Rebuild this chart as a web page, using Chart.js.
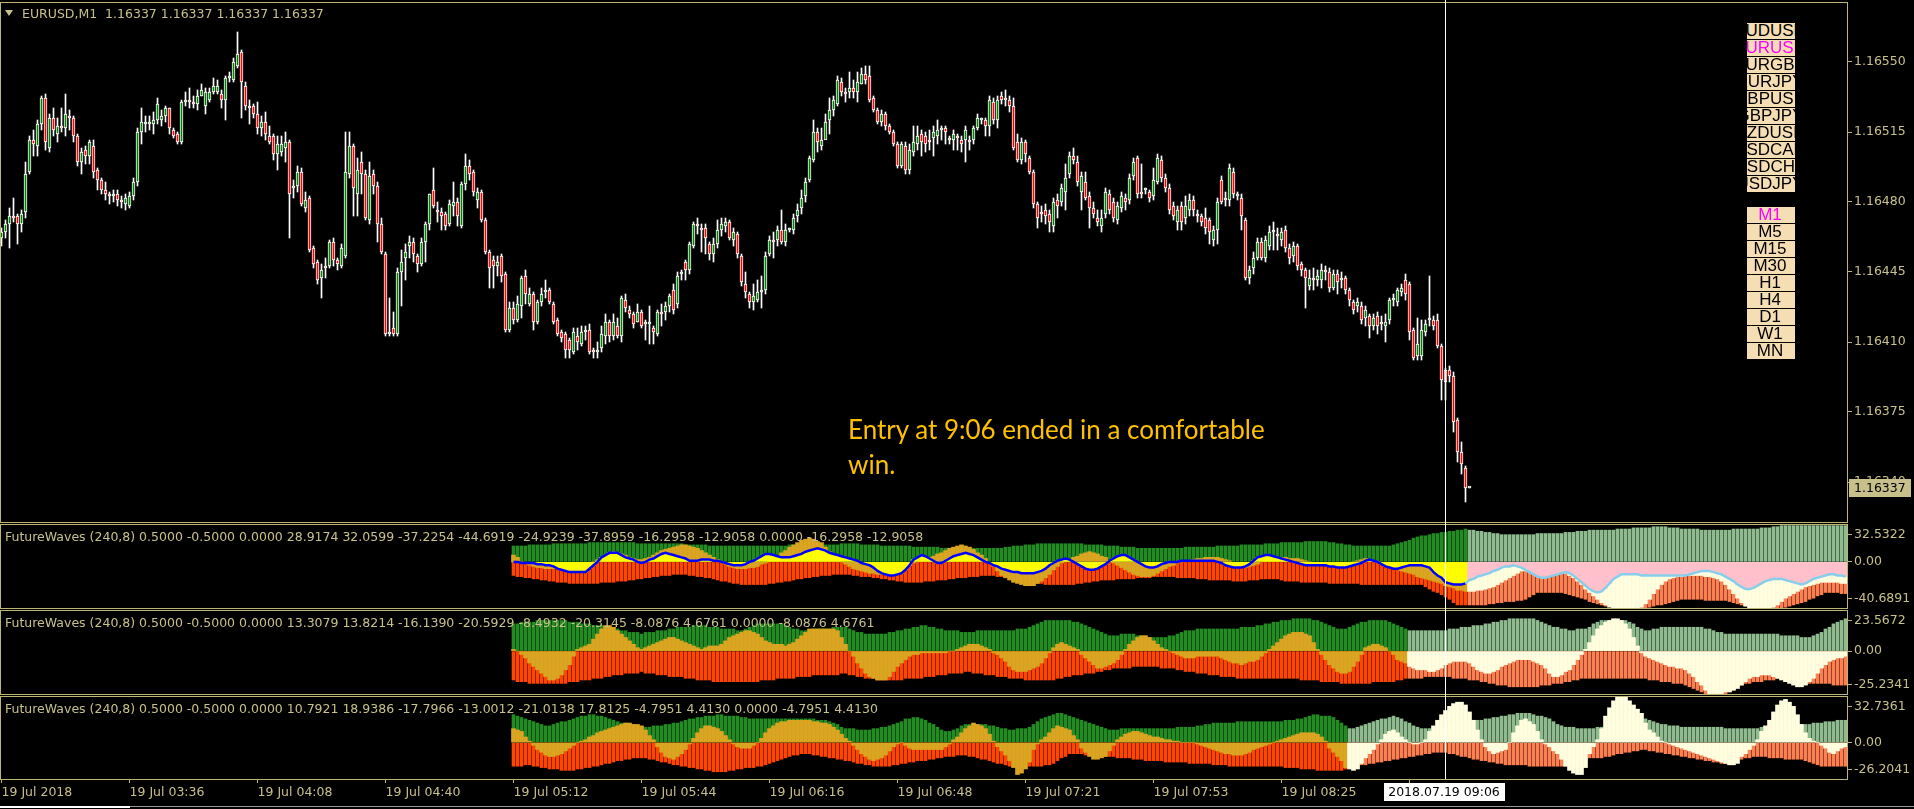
<!DOCTYPE html>
<html><head><meta charset="utf-8">
<script src="https://cdn.jsdelivr.net/npm/chart.js@4.4.1/dist/chart.umd.min.js"></script>
<style>
html,body{margin:0;padding:0;background:#000;width:1914px;height:809px;overflow:hidden;}
#wrap{position:relative;width:1914px;height:809px;background:#000;}
canvas{position:absolute;left:0;}
.t{position:absolute;font-family:"DejaVu Sans";font-size:12.5px;line-height:15px;color:#C8C08A;white-space:pre;z-index:5;}
.btn{position:absolute;left:1747px;width:48px;height:16px;background:#F5DEB3;overflow:hidden;display:flex;justify-content:center;align-items:center;font-family:"Liberation Sans";font-size:17px;line-height:16px;color:#000;white-space:nowrap;z-index:5;}
.btn span{flex:none;position:relative;left:-1px;}
#note{position:absolute;left:848px;top:412px;font-family:Lato;font-size:26px;line-height:35px;color:#FFC000;white-space:pre;z-index:5;}
#tri{position:absolute;left:5px;top:10px;width:0;height:0;border-left:4.5px solid transparent;border-right:4.5px solid transparent;border-top:6px solid #C8C08A;z-index:5;}
</style></head>
<body><div id="wrap">
<canvas id="cMain" width="1914" height="523" style="top:0;width:1914px;height:523px"></canvas>
<canvas id="cP1" width="1914" height="86" style="top:523px;width:1914px;height:86px"></canvas>
<canvas id="cP2" width="1914" height="86" style="top:609px;width:1914px;height:86px"></canvas>
<canvas id="cP3" width="1914" height="114" style="top:695px;width:1914px;height:114px"></canvas>
<div id="tri"></div>
<div class="t" id="mainTitle" style="left:22px;top:6px"></div>
<div class="t" id="pt0" style="left:5px;top:529px"></div>
<div class="t" id="pt1" style="left:5px;top:615px"></div>
<div class="t" id="pt2" style="left:5px;top:701px"></div>
<div id="note">Entry at 9:06 ended in a comfortable
win.</div>
<div style="position:absolute;left:0;top:806px;width:130px;height:2px;background:#fff"></div>
<div style="position:absolute;left:130px;top:806px;width:1784px;height:1px;background:#9a9a9a"></div>
</div>
<script>
// ---------- DATA ----------
const PRICE_BASE = 1.16, POINT = 0.00001;   // candle values are points above 1.16000
const candleOpen = [
462,465,469,473,473,469,475,495,511,508,519,532,507,522,514,518,517,523,522,513,
500,506,503,508,496,491,486,484,483,484,481,479,478,483,490,515,519,519,519,521,
521,523,527,516,514,510,530,531,530,529,533,528,531,535,535,534,531,542,541,548,
555,538,528,528,524,517,520,513,513,504,505,507,510,487,488,495,477,482,457,450,
442,447,448,460,451,448,453,494,508,484,500,494,471,494,488,469,454,414,417,414,
445,452,458,460,453,449,460,469,486,476,475,474,469,478,480,468,489,498,495,481,
485,471,455,451,448,453,444,416,427,421,428,443,429,434,420,430,435,436,429,421,
415,414,411,405,413,409,415,416,406,405,407,413,420,413,418,413,431,426,424,420,
425,419,419,417,414,425,425,428,436,429,444,450,446,458,469,467,467,459,454,459,
466,468,470,461,464,453,439,434,430,431,435,436,454,461,461,466,460,466,466,473,
477,483,491,501,515,508,511,521,526,529,540,535,535,537,535,539,544,543,532,526,
520,524,518,515,509,498,508,496,505,509,514,513,511,512,513,516,517,511,511,513,
511,511,511,511,517,521,521,518,530,521,533,532,531,528,510,501,510,502,495,479,
475,476,474,468,481,480,485,494,503,500,485,490,483,477,472,468,474,484,480,471,
477,482,481,493,502,485,486,485,483,490,501,492,487,478,470,478,472,476,481,474,
473,472,471,461,466,491,481,481,495,483,482,471,442,447,452,460,452,458,465,464,
461,466,457,453,458,449,446,438,442,441,441,446,445,437,444,441,442,436,430,428,
428,422,423,418,423,420,418,421,431,430,435,441,439,416,403,403,415,421,421,421,
408,396,396,393,371,355,347,337];
const candleHigh = [
467,471,477,482,474,476,500,513,516,521,533,534,524,527,522,527,534,526,523,514,
507,508,511,511,497,492,490,485,486,486,483,484,485,492,517,527,523,523,525,532,
526,528,527,517,515,531,535,537,533,536,539,537,537,542,541,536,543,545,552,565,
556,540,531,529,530,523,525,518,514,513,513,515,511,491,498,497,485,483,458,451,
449,452,461,462,452,459,515,515,509,502,505,496,500,496,490,472,455,432,425,447,
456,459,463,462,454,462,470,484,497,480,477,475,481,490,482,490,504,501,496,487,
486,472,456,453,453,454,445,430,430,433,443,446,437,435,431,437,441,437,430,422,
416,415,412,417,417,418,418,419,407,410,418,424,421,424,422,433,434,428,425,429,
426,421,428,418,426,429,430,434,439,445,446,451,460,470,472,469,469,460,462,471,
472,472,471,467,465,454,445,435,439,441,443,455,463,465,468,476,469,467,474,479,
486,492,503,521,517,517,524,532,533,543,542,537,545,541,545,547,548,548,533,527,
526,525,519,516,510,510,510,509,518,518,516,515,516,518,521,518,518,513,516,514,
513,518,513,518,524,522,522,533,532,533,535,536,533,532,514,512,511,503,496,480,
478,479,476,482,484,489,499,505,507,503,495,495,485,480,476,476,487,486,482,480,
485,484,494,502,503,499,487,486,497,504,503,494,489,480,478,480,483,484,483,476,
474,477,472,468,482,493,485,499,497,485,484,472,448,455,462,462,463,468,470,467,
467,468,459,460,459,450,447,446,447,446,449,448,447,446,446,445,443,437,431,432,
430,428,424,424,425,423,424,432,434,437,439,444,440,417,422,421,421,443,423,424,
409,397,398,395,372,360,348,337];
const candleLow = [
458,462,457,470,459,465,472,494,503,503,516,506,505,513,510,515,513,516,510,498,
494,499,499,492,486,484,481,479,480,478,477,476,477,481,488,509,515,516,514,519,
518,520,514,512,509,509,528,527,527,526,533,524,530,534,534,527,521,540,540,547,
522,526,519,522,514,513,511,509,501,496,503,500,462,482,485,478,475,455,447,439,
432,442,447,448,446,447,452,492,473,473,484,471,469,484,460,454,413,413,413,413,
428,441,452,450,445,448,450,466,477,470,466,466,468,473,468,467,486,491,483,477,
470,454,437,437,443,440,415,415,419,420,422,429,428,416,419,428,432,429,419,413,
410,402,402,404,406,408,411,404,402,402,405,409,410,411,412,410,425,422,417,420,
417,411,409,409,413,418,421,425,424,427,441,441,444,457,464,455,454,451,450,457,
463,465,461,458,452,438,432,427,426,430,427,434,453,452,458,459,458,465,464,470,
474,480,490,500,505,506,514,514,523,528,533,530,532,532,530,539,539,530,525,519,
518,516,514,508,497,497,494,494,503,506,503,505,506,503,509,511,509,509,506,506,
505,500,506,509,516,519,513,513,519,517,529,528,525,506,500,499,500,494,477,467,
470,469,465,465,472,478,476,492,499,488,476,481,467,472,468,465,472,474,470,469,
475,476,479,491,482,482,484,480,481,489,490,485,474,471,466,466,469,473,473,470,
468,464,459,458,459,479,478,478,482,481,466,441,439,444,451,451,450,456,456,456,
458,455,449,450,446,443,427,436,436,438,437,441,435,436,434,437,434,428,424,425,
419,418,412,416,414,416,410,419,428,428,433,431,411,401,401,401,413,418,416,407,
381,381,390,365,350,344,330,337];
const candleClose = [
465,469,473,472,469,474,494,511,509,519,532,510,522,516,518,517,524,522,513,500,
505,503,510,495,491,486,484,483,484,481,480,482,483,490,515,520,519,520,521,529,
523,527,517,513,510,530,531,530,529,533,536,535,535,538,538,531,542,543,550,554,
540,528,527,524,517,520,514,510,504,509,509,510,484,488,495,479,481,456,449,441,
446,448,460,451,449,457,495,508,487,496,494,472,493,488,469,455,414,414,414,445,
450,455,460,454,449,460,469,484,478,475,473,468,479,480,473,489,498,494,485,485,
471,455,447,448,450,443,416,427,421,429,442,434,434,420,430,434,436,430,420,414,
412,406,406,415,410,415,416,405,405,406,414,420,413,420,413,432,427,424,419,425,
418,420,419,415,425,424,428,433,426,443,445,446,459,469,468,466,462,454,459,466,
469,470,462,465,454,440,435,430,433,435,436,453,461,460,466,460,466,466,472,476,
482,490,502,515,510,511,520,526,531,541,535,534,537,535,540,544,541,531,526,520,
524,518,515,509,498,509,496,506,510,513,510,509,510,515,516,516,515,511,514,512,
509,516,510,517,522,521,518,531,521,531,531,531,528,507,501,510,504,495,479,472,
474,473,470,480,478,487,492,503,501,490,493,482,477,474,470,472,485,476,472,478,
483,480,492,500,484,484,486,482,491,502,492,487,476,473,476,470,478,481,476,473,
470,467,465,466,480,480,482,497,484,483,473,442,446,452,460,452,461,465,465,463,
465,457,452,458,448,446,442,442,441,443,446,445,437,444,440,441,436,431,426,430,
421,426,418,422,418,419,420,431,432,436,437,434,415,402,409,416,419,421,418,408,
391,390,393,370,355,349,337,337];
const priceTicks = [1.16340,1.16375,1.16410,1.16445,1.16480,1.16515,1.16550];
const lastPrice = 1.16337;
const timeTickIdx = [0,32,64,96,128,160,192,224,256,288,320,352];
const timeTickLabels = ['19 Jul 2018','19 Jul 03:36','19 Jul 04:08','19 Jul 04:40','19 Jul 05:12','19 Jul 05:44',
  '19 Jul 06:16','19 Jul 06:48','19 Jul 07:21','19 Jul 07:53','19 Jul 08:25','19 Jul 08:57'];
const crossIdx = 361, crossLabel = '2018.07.19 09:06';
const mainTitle = 'EURUSD,M1  1.16337 1.16337 1.16337 1.16337';
const paneTitles = [
 'FutureWaves (240,8) 0.5000 -0.5000 0.0000 28.9174 32.0599 -37.2254 -44.6919 -24.9239 -37.8959 -16.2958 -12.9058 0.0000 -16.2958 -12.9058',
 'FutureWaves (240,8) 0.5000 -0.5000 0.0000 13.3079 13.8214 -16.1390 -20.5929 -8.4932 -20.3145 -8.0876 4.6761 0.0000 -8.0876 4.6761',
 'FutureWaves (240,8) 0.5000 -0.5000 0.0000 10.7921 18.9386 -17.7966 -13.0012 -21.0138 17.8125 -4.7951 4.4130 0.0000 -4.7951 4.4130'];
const paneRange = [[-40.6891,32.5322],[-25.2341,23.5672],[-26.2041,32.7361]];
const IND_START = 128;                 // first indicator bar index
const paneSplit = [367,352,337];       // first projected ("future") bar in each pane
const symbolButtons = ['AUDUSD','EURUSD','EURGBP','EURJPY','GBPUSD','GBPJPY','NZDUSD','USDCAD','USDCHF','USDJPY'];
const tfButtons = ['M1','M5','M15','M30','H1','H4','D1','W1','MN'];
const activeSymbol = 'EURUSD', activeTf = 'M1';

const p1Upper = [
14,14,14,14,15,15,15,15,15,15,16,16,16,16,16,16,16,16,16,17,17,17,17,17,17,17,17,17,17,17,
17,16,16,16,16,16,16,16,16,16,16,16,16,15,15,15,15,15,15,14,14,14,14,14,14,14,14,14,14,14,
14,14,14,14,14,14,14,14,14,15,15,15,15,15,15,15,15,15,15,15,15,15,16,16,16,16,16,15,15,15,
15,15,14,14,14,14,14,14,14,14,13,13,13,13,13,13,13,12,12,12,12,12,12,12,12,12,12,12,12,12,
12,12,12,13,13,14,14,14,15,15,15,16,16,16,16,16,16,16,16,16,16,16,16,15,15,15,15,15,14,14,
14,14,13,13,13,13,12,12,12,12,12,12,12,12,12,12,12,12,13,13,13,13,13,13,13,13,14,14,14,14,
14,14,15,15,15,15,15,15,16,16,16,16,17,17,17,17,17,17,18,18,18,18,18,18,17,17,16,16,15,15,
14,14,14,14,14,14,14,14,14,14,15,16,17,18,19,21,22,23,23,24,25,25,26,26,27,27,28,28,29,28,
28,27,27,26,26,25,25,24,24,24,24,24,24,24,24,24,25,25,25,25,25,25,25,26,26,26,27,27,27,28,
28,28,28,28,28,28,29,29,29,29,30,30,30,30,30,31,31,31,31,30,30,30,29,29,29,29,29,28,28,28,
28,28,28,28,28,29,29,29,29,29,29,29,30,30,30,31,31,32,32,32,32,32,32,32,32,32,32,32,32,32,
32,32,32,32];
const p1Lower = [
-12,-13,-13,-14,-14,-15,-15,-16,-16,-17,-17,-18,-18,-18,-19,-19,-19,-19,-19,-19,-19,-19,-18,-18,-18,-18,-17,-17,-17,-16,
-16,-15,-15,-14,-14,-13,-13,-12,-12,-12,-11,-11,-11,-11,-12,-12,-13,-13,-14,-14,-15,-16,-17,-17,-18,-19,-19,-20,-20,-20,
-20,-20,-20,-20,-19,-19,-18,-18,-17,-17,-16,-15,-15,-14,-14,-13,-13,-12,-12,-12,-11,-11,-11,-11,-11,-12,-12,-13,-13,-13,
-14,-14,-15,-15,-16,-16,-17,-17,-18,-18,-18,-18,-18,-17,-17,-17,-16,-16,-16,-15,-15,-14,-14,-14,-13,-13,-13,-12,-12,-12,
-12,-13,-13,-14,-14,-15,-16,-16,-17,-18,-18,-19,-19,-20,-20,-20,-20,-20,-20,-20,-20,-19,-19,-18,-18,-17,-17,-16,-16,-16,
-16,-15,-15,-15,-15,-15,-14,-14,-14,-14,-13,-13,-13,-13,-13,-13,-14,-14,-14,-14,-14,-15,-15,-15,-16,-16,-16,-16,-16,-16,
-17,-17,-17,-17,-16,-16,-16,-15,-15,-15,-15,-15,-16,-17,-17,-17,-17,-18,-18,-18,-18,-18,-18,-18,-19,-19,-19,-19,-19,-19,
-19,-19,-20,-20,-20,-20,-20,-20,-20,-20,-20,-20,-20,-20,-20,-20,-20,-20,-22,-24,-26,-27,-29,-31,-33,-36,-38,-38,-38,-38,
-38,-38,-38,-38,-37,-37,-36,-36,-35,-35,-35,-34,-34,-33,-31,-29,-27,-27,-27,-27,-27,-27,-27,-28,-29,-30,-31,-32,-33,-35,
-36,-37,-38,-39,-39,-40,-40,-41,-41,-41,-41,-41,-41,-41,-40,-39,-38,-38,-37,-36,-35,-34,-33,-33,-33,-33,-33,-33,-34,-34,
-34,-34,-34,-34,-35,-36,-37,-38,-39,-39,-40,-40,-41,-41,-41,-41,-41,-41,-40,-39,-38,-37,-36,-35,-33,-32,-30,-29,-27,-27,
-27,-27,-28,-28];
const p1Wave = [
6,4,0,-1,-3,-4,-5,-5,-6,-6,-6,-6,-7,-7,-7,-6,-6,-5,-3,-2,0,2,4,6,8,9,8,7,6,4,
3,2,2,3,4,6,8,10,11,12,13,14,15,15,14,13,12,10,8,6,4,2,0,-2,-4,-5,-6,-6,-6,-5,
-5,-4,-2,-1,1,3,5,8,10,13,15,17,19,20,21,20,18,17,13,9,6,3,0,-2,-4,-6,-7,-8,-9,-10,
-10,-11,-11,-11,-10,-9,-8,-6,-4,-2,-1,0,1,3,4,5,7,8,10,12,13,14,15,14,13,11,8,6,3,-1,
-4,-8,-12,-14,-16,-18,-19,-20,-21,-21,-21,-19,-17,-14,-11,-7,-4,-1,1,2,4,5,7,8,9,8,7,5,4,1,
-1,-3,-5,-7,-9,-11,-12,-13,-13,-13,-12,-10,-8,-6,-4,-3,-1,0,1,1,2,3,3,4,4,4,4,3,2,1,
-2,-3,-4,-5,-4,-3,-2,0,1,3,3,4,4,4,3,3,3,2,1,0,-1,-1,-2,-2,-2,-3,-3,-3,-2,-1,
0,1,2,3,2,1,0,-1,-3,-5,-6,-7,-8,-9,-10,-11,-13,-14,-15,-16,-17,-18,-19,-21,-22,-23,-25,-25,-26,
-26,-26,-25,-25,-24,-23,-22,-20,-18,-16,-14,-12,-10,-8,-8,-8,-8,-8,-9,-9,
-9,-9,-9,-9,-10,-12,-14,-17,-20,-24,-27,-30,-33,-36,-38,-40,-41,-41,-41,-41,
-41,-41,-41,-40,-37,-33,-28,-24,-20,-17,-15,-14,-13,-13,-12,-12,-12,-12,-12,-13,
-13,-14,-15,-17,-20,-24,-28,-32,-36,-39,-41,-41,-41,-41,-41,-41,-40,-38,-35,-32,
-30,-28,-26,-24,-22,-21,-20,-19,-18,-18,-18,-18,-18,-19,-19];
const p1Line = [
0,0,-1,-1,-1,-1,-2,-2,-3,-3,-4,-6,-7,-8,-9,-9,-9,-9,-9,-6,-3,0,4,6,8,8,8,6,4,3,
2,0,-1,0,2,3,5,7,8,7,6,5,4,3,1,1,1,2,2,2,1,1,0,-1,-2,-3,-3,-3,-2,0,
1,3,5,7,7,6,5,4,4,4,5,6,7,9,10,11,12,11,10,8,7,6,5,4,3,2,1,-1,-2,-3,
-5,-8,-10,-11,-12,-12,-11,-10,-7,-3,2,4,6,5,3,1,-1,-1,1,3,5,6,7,8,7,6,4,2,0,-1,
-3,-4,-6,-7,-8,-9,-9,-10,-10,-10,-10,-9,-8,-6,-3,-1,1,2,3,2,0,-2,-4,-6,-7,-7,-6,-4,-2,1,
3,5,6,6,4,2,0,-2,-4,-5,-5,-4,-2,-1,0,0,0,1,1,1,1,1,1,1,1,1,0,-1,-3,-4,
-5,-5,-5,-4,-2,1,4,5,6,6,5,4,3,2,1,0,-1,-2,-3,-3,-3,-3,-3,-3,-4,-4,-5,-5,-5,-4,
-3,-2,-1,1,2,1,0,-2,-4,-5,-6,-6,-5,-4,-3,-3,-3,-3,-4,-5,-9,-12,-14,-18,-19,-20,-20,-20,-19,
-16,-15,-13,-12,-11,-10,-8,-7,-5,-4,-4,-3,-4,-5,-7,-9,-11,-13,-14,-14,
-13,-12,-11,-10,-9,-10,-12,-15,-18,-21,-24,-26,-27,-26,-23,-19,-15,-13,-11,-11,
-11,-11,-11,-12,-12,-12,-12,-12,-12,-12,-12,-12,-12,-12,-12,-11,-10,-9,-8,-8,
-8,-9,-10,-11,-13,-15,-17,-20,-22,-24,-24,-23,-21,-19,-17,-16,-15,-15,-15,-16,
-17,-18,-19,-20,-19,-17,-15,-14,-13,-12,-11,-11,-12,-12,-13];
const p2Upper = [
16,16,17,17,17,17,18,18,18,18,18,18,18,18,17,17,17,16,16,16,15,15,15,14,14,13,13,12,12,11,
11,11,10,11,11,11,12,12,12,13,13,14,14,14,14,15,15,15,15,14,14,14,13,13,13,13,12,12,13,14,
15,16,16,16,16,16,16,16,15,14,13,13,12,12,12,13,13,13,13,13,14,14,14,14,13,12,11,11,10,10,
10,10,10,10,11,11,12,12,13,13,14,14,15,15,14,14,13,13,12,12,12,12,11,11,11,11,12,12,12,12,
12,12,12,12,12,12,13,13,13,14,15,16,17,18,18,18,18,18,18,18,17,17,16,15,14,13,12,11,10,9,
9,9,10,10,10,10,9,9,9,8,8,8,8,8,9,9,10,11,12,12,12,13,13,13,13,13,13,13,13,13,
13,13,14,14,14,14,15,15,16,16,17,17,18,18,18,19,19,19,19,19,18,18,17,16,15,14,13,13,13,14,
15,16,17,17,18,18,18,18,18,17,16,15,14,13,12,12,12,12,12,12,12,12,12,12,13,13,13,14,14,14,
15,15,15,16,16,17,17,18,18,19,19,19,19,19,19,19,18,17,16,15,14,14,13,13,12,12,13,13,13,14,
16,17,18,18,18,18,18,18,18,17,16,14,13,12,12,13,13,14,14,14,14,14,14,14,14,14,14,14,13,13,
12,11,11,10,10,10,10,10,10,10,10,10,10,10,10,10,10,9,9,9,9,9,8,8,8,9,10,11,13,14,
16,17,18,19];
const p2Lower = [
-17,-18,-18,-18,-19,-19,-19,-19,-19,-19,-19,-19,-19,-19,-18,-18,-18,-17,-17,-17,-16,-16,-16,-15,-15,-14,-14,-14,-13,-13,
-13,-13,-12,-13,-13,-13,-14,-14,-14,-15,-15,-15,-15,-16,-16,-16,-17,-17,-17,-17,-18,-18,-18,-18,-18,-18,-18,-18,-18,-18,
-18,-18,-17,-17,-17,-17,-16,-16,-16,-16,-16,-15,-15,-15,-15,-14,-14,-14,-14,-14,-14,-14,-13,-13,-14,-14,-15,-15,-16,-16,
-16,-17,-17,-17,-17,-17,-17,-17,-16,-16,-16,-16,-16,-15,-15,-15,-14,-14,-14,-13,-13,-13,-13,-12,-12,-13,-13,-13,-14,-14,
-14,-15,-15,-15,-16,-16,-16,-16,-17,-17,-17,-17,-17,-17,-17,-17,-16,-16,-15,-15,-14,-14,-14,-13,-13,-13,-12,-12,-11,-11,
-10,-10,-10,-10,-10,-9,-9,-9,-9,-9,-9,-9,-10,-10,-10,-10,-11,-11,-12,-12,-12,-13,-13,-13,-14,-14,-14,-15,-15,-15,
-15,-16,-16,-16,-16,-16,-16,-16,-16,-16,-16,-16,-16,-16,-16,-16,-16,-17,-17,-17,-17,-17,-18,-18,-18,-18,-18,-19,-19,-19,
-19,-19,-19,-19,-19,-18,-18,-18,-18,-18,-18,-17,-17,-16,-16,-16,-16,-16,-15,-15,-15,-15,-15,-15,-15,-16,-16,-16,-16,-17,
-17,-17,-18,-18,-19,-19,-20,-20,-20,-21,-21,-21,-21,-21,-21,-21,-21,-20,-20,-20,-19,-19,-19,-18,-18,-17,-17,-16,-16,-16,
-16,-16,-16,-16,-16,-16,-16,-16,-16,-16,-16,-16,-16,-16,-17,-17,-17,-18,-18,-18,-19,-19,-19,-20,-21,-22,-23,-24,-25,-25,
-25,-25,-25,-25,-24,-23,-21,-20,-19,-19,-18,-18,-18,-17,-17,-17,-16,-16,-16,-17,-17,-18,-19,-19,-19,-19,-19,-19,-19,-19,
-20,-20,-20,-20];
const p2Wave = [
1,0,-2,-4,-7,-9,-11,-13,-15,-17,-17,-16,-14,-11,-8,-3,1,2,3,4,7,10,13,15,15,14,12,10,8,6,
4,2,1,2,3,4,5,6,7,8,8,7,6,5,4,3,2,1,2,3,3,3,4,6,8,9,10,11,12,12,
11,10,8,6,5,4,4,4,3,4,5,7,9,11,13,13,13,13,13,13,13,12,8,4,0,-3,-7,-10,-13,-15,
-16,-17,-17,-17,-15,-12,-9,-7,-5,-3,-2,-2,-1,-1,-1,-1,-1,-1,-1,0,0,1,2,3,4,4,4,3,2,1,
-1,-2,-4,-6,-9,-11,-12,-12,-12,-11,-10,-9,-7,-4,-1,2,4,5,4,3,2,1,-2,-4,-6,-8,-10,-10,-9,-8,
-7,-5,-2,1,4,6,8,9,9,8,6,4,2,1,0,-1,-2,-3,-4,-4,-4,-3,-3,-3,-3,-3,-3,-4,-5,-6,
-7,-7,-8,-7,-6,-6,-5,-3,-1,1,3,5,7,9,10,11,11,11,10,9,5,1,-2,-5,-8,-10,-12,-13,-13,-12,
-9,-6,-2,2,3,4,4,3,2,0,-2,-5,-6,-7,-9,-10,-11,-11,-11,-12,-12,-11,-10,-8,-7,-6,-6,-6,-6,-7,
-9,-11,-12,-13,-13,-12,-11,-9,-8,-7,-6,-5,-5,-5,-5,-6,-7,-8,-10,-13,-15,-15,-14,-12,-11,-8,-5,-2,1,5,
9,13,15,17,18,19,19,18,16,13,8,3,-1,-3,-4,-5,-6,-7,-8,-9,-9,-10,-10,-11,-13,-15,-18,-20,-23,-25,
-25,-25,-25,-24,-24,-23,-22,-20,-18,-16,-15,-15,-14,-14,-14,-15,-16,-17,-18,-19,-20,-21,-21,-20,-18,-16,-13,-10,-8,-6,
-5,-4,-4,-3];
const p3Upper = [
20,19,18,17,16,15,14,13,12,12,13,14,15,15,16,17,18,19,19,20,20,19,19,18,17,16,15,14,14,13,
13,12,11,11,11,12,12,12,13,13,14,14,15,16,17,17,18,18,19,19,19,20,20,19,19,19,19,18,18,17,
17,17,17,17,17,17,17,17,17,17,17,17,17,17,17,17,16,16,16,15,14,13,11,10,10,10,9,9,9,9,
10,10,11,11,12,13,14,15,17,17,18,18,17,16,14,13,11,9,8,8,9,10,12,13,13,13,13,13,13,12,
12,11,10,10,9,9,10,10,10,11,13,15,17,18,19,20,21,21,20,19,18,17,16,15,14,13,12,11,10,9,
9,9,10,10,10,10,10,10,10,10,10,10,10,10,10,10,11,11,11,11,11,12,12,13,13,14,14,14,14,14,
14,15,15,15,15,15,15,15,15,15,15,15,15,16,16,16,17,17,18,19,20,20,19,19,19,18,16,14,12,10,
10,11,12,13,14,15,16,17,17,18,19,18,17,15,14,12,11,10,10,10,10,10,10,11,12,13,14,14,15,15,
15,16,16,17,17,18,18,19,19,20,20,21,21,21,21,20,19,19,18,17,15,13,12,11,11,11,10,10,10,10,
10,11,11,11,12,13,14,15,16,17,17,17,17,17,16,15,14,13,13,12,12,12,11,11,11,11,11,11,11,11,
11,11,11,10,10,10,10,10,10,10,10,10,11,11,11,11,12,12,12,12,12,13,13,13,13,14,14,14,15,15,
15,16,16,16];
const p3Lower = [
-17,-17,-17,-16,-16,-17,-17,-18,-18,-19,-19,-19,-20,-20,-20,-20,-19,-19,-18,-18,-17,-17,-16,-15,-15,-14,-13,-13,-12,-12,
-11,-11,-11,-11,-12,-12,-13,-14,-14,-15,-16,-16,-17,-17,-18,-18,-19,-19,-20,-20,-21,-21,-21,-21,-20,-20,-19,-19,-18,-18,
-18,-17,-17,-16,-15,-14,-13,-12,-11,-10,-9,-9,-8,-8,-8,-9,-9,-10,-10,-11,-11,-12,-12,-13,-13,-14,-15,-15,-16,-16,
-17,-17,-17,-17,-17,-16,-16,-15,-15,-14,-14,-13,-13,-13,-12,-12,-11,-11,-10,-10,-10,-9,-9,-9,-10,-10,-11,-12,-12,-13,
-14,-15,-15,-16,-17,-17,-17,-17,-17,-17,-17,-17,-17,-16,-16,-15,-13,-11,-10,-8,-8,-8,-8,-9,-9,-9,-9,-10,-10,-10,
-10,-11,-11,-11,-11,-12,-12,-12,-13,-13,-13,-13,-13,-14,-14,-14,-14,-14,-14,-15,-15,-15,-15,-15,-15,-16,-16,-16,-16,-17,
-17,-17,-17,-17,-17,-17,-17,-17,-17,-17,-17,-17,-17,-18,-18,-18,-18,-19,-19,-19,-19,-20,-20,-20,-20,-20,-20,-20,-19,-18,
-17,-17,-16,-16,-15,-15,-14,-14,-13,-13,-12,-12,-11,-11,-10,-10,-9,-9,-8,-8,-7,-7,-7,-7,-8,-8,-9,-10,-10,-11,
-12,-12,-13,-13,-14,-14,-15,-15,-16,-16,-16,-16,-16,-16,-17,-17,-17,-17,-17,-17,-17,-17,-17,-17,-16,-15,-14,-13,-12,-11,
-11,-11,-11,-10,-10,-9,-8,-8,-7,-7,-6,-6,-5,-5,-6,-6,-7,-7,-8,-8,-9,-9,-10,-10,-11,-11,-12,-12,-13,-13,
-14,-14,-15,-15,-15,-14,-13,-12,-11,-11,-10,-10,-10,-10,-11,-11,-11,-11,-12,-12,-12,-12,-12,-13,-14,-15,-16,-17,-17,-17,
-17,-17,-17,-17];
const p3Wave = [
10,9,8,4,1,-2,-5,-7,-9,-10,-10,-9,-8,-6,-4,-2,0,1,2,4,5,7,8,9,10,11,12,13,14,14,
13,13,12,9,5,2,-3,-7,-10,-11,-12,-10,-8,-5,-1,3,7,10,12,12,11,10,8,5,2,-1,-3,-4,-4,-4,
-2,0,3,7,10,12,14,15,15,16,16,16,16,16,16,15,15,14,14,13,11,9,6,3,1,-2,-5,-8,-10,-12,
-13,-12,-11,-9,-6,-3,-1,0,-2,-4,-5,-5,-5,-5,-5,-5,-5,-5,-3,-1,2,4,7,10,12,14,13,12,10,6,
1,-3,-6,-9,-13,-18,-23,-22,-19,-14,-5,-1,2,4,7,10,12,11,10,9,5,2,-4,-7,-10,-12,-12,-11,-10,-6,
-2,2,4,6,7,8,8,7,6,5,4,4,3,2,2,1,1,0,0,0,0,-1,-2,-3,-4,-5,-6,-7,-8,-8,
-9,-9,-9,-8,-7,-5,-4,-3,-2,-1,0,1,2,3,4,5,6,7,7,7,7,6,4,1,-4,-7,-10,-13,-18,-19,
-20,-19,-15,-11,-8,-5,-1,2,6,8,9,7,4,2,0,-1,-1,0,2,8,12,16,20,23,26,28,29,29,27,22,
16,9,2,-3,-6,-8,-7,-6,-5,0,7,12,16,17,15,13,8,2,-1,-3,-6,-8,-12,-17,-20,-22,-23,-23,-18,-8,
-3,2,10,19,25,30,33,33,33,30,27,24,21,14,9,7,4,1,0,-1,-2,-3,-4,-5,-6,-7,-8,-9,-10,-11,
-12,-13,-14,-15,-16,-16,-15,-10,-8,-5,-2,2,8,12,16,22,27,30,31,29,26,20,13,7,3,1,0,-2,-4,-7,
-8,-6,-4,-3];

// ---------- STYLE ----------
const COL = {text:'#C8C08A', frame:'#BDB576', bull:'#008000', bear:'#FF0000', wick:'#FFFFFF',
  up:'#228B22', upF:'#8FBC8F', dn:'#FF4500', dnF:'#FF7F50', wave:'#DAA520', waveF:'#FFFFE0',
  fill:'#FFFF00', fillF:'#FFC0CB', line:'#0000FF', lineF:'#87CEEB', priceBox:'#C8C08A'};
const FONT = {family:'DejaVu Sans', size:12.5};
const X_MIN = -0.375, X_MAX = X_MIN + 1848/4;
const PRICE_MAX = 1.165795, PRICE_MIN = 1.16320;
Chart.defaults.font.family = 'DejaVu Sans';

// ---------- overlays (text) ----------
document.getElementById('mainTitle').textContent = mainTitle;
paneTitles.forEach((s,i)=>document.getElementById('pt'+i).textContent = s);
const wrap = document.getElementById('wrap');
function addBtn(label, top, active){
  const d = document.createElement('div'); d.className='btn'; d.style.top = top+'px';
  const s = document.createElement('span'); s.textContent = label; if(active) s.style.color = '#FF00FF';
  d.appendChild(s); wrap.appendChild(d);
}
symbolButtons.forEach((s,i)=>addBtn(s, 23+17*i, s===activeSymbol));
tfButtons.forEach((s,i)=>addBtn(s, 207+17*i, s===activeTf));

// ---------- plugins ----------
const framePlugin = {id:'frame', afterDatasetsDraw(chart){
  const {ctx, chartArea:a} = chart; ctx.save(); ctx.strokeStyle = COL.frame; ctx.lineWidth = 1;
  ctx.strokeRect(a.left+0.5, a.top-0.5, a.right-a.left-1, a.bottom-a.top+1); ctx.restore(); }};
function crossPlugin(toBottomOfArea){ return {id:'cross', afterDraw(chart){
  const {ctx, chartArea:a} = chart; const px = Math.floor(chart.scales.x.getPixelForValue(crossIdx));
  ctx.save(); ctx.fillStyle = '#FFFFFF';
  const y1 = toBottomOfArea ? a.bottom : chart.height;
  ctx.fillRect(px, 0, 1, y1); ctx.restore(); }}; }
const priceBoxPlugin = {id:'pbox', afterDraw(chart){
  const {ctx} = chart; const y = Math.round(chart.scales.y.getPixelForValue(lastPrice));
  ctx.save(); ctx.fillStyle = COL.priceBox; ctx.fillRect(1849, y-9, 62, 18);
  ctx.fillStyle = '#000'; ctx.font = '12.5px "DejaVu Sans"'; ctx.textBaseline = 'middle'; ctx.textAlign = 'left';
  ctx.fillText(lastPrice.toFixed(5), 1854, y+0.5); ctx.restore(); }};
const timeBoxPlugin = {id:'tbox', afterDraw(chart){
  const {ctx, chartArea:a} = chart; const px = chart.scales.x.getPixelForValue(crossIdx);
  ctx.save(); ctx.fillStyle = '#FFFFFF'; ctx.fillRect(Math.round(px-62), a.bottom+4, 121, 18);
  ctx.fillStyle = '#000'; ctx.font = '12.5px "DejaVu Sans"'; ctx.textBaseline = 'middle'; ctx.textAlign = 'center';
  ctx.fillText(crossLabel, px-1.5, a.bottom+13.5); ctx.restore(); }};

function hiddenX(){ return {type:'linear', min:X_MIN, max:X_MAX, offset:false, stacked:true, display:false, grid:{offset:false}}; }
function commonOpts(padding, scales){
  return {responsive:false, maintainAspectRatio:false, animation:false, devicePixelRatio:1, events:[],
    layout:{padding}, plugins:{legend:{display:false}, tooltip:{enabled:false}}, scales};
}
function fitY(s){ s.width = 66; s.paddingTop = 0; s.paddingBottom = 0; }

// ---------- main price chart ----------
const toP = v => PRICE_BASE + v*POINT;
const kIdx = candleClose.map((_,k)=>k);
new Chart(document.getElementById('cMain'), {
  type:'bar',
  data:{datasets:[
    {type:'bar', stack:'s', order:1, barThickness:3, borderWidth:1, borderSkipped:false, minBarLength:2,
     borderColor:'#FFFFFF',
     backgroundColor: kIdx.map(k=> candleClose[k] < candleOpen[k] ? COL.bear : COL.bull),
     data: kIdx.map(k=>({x:k, y:[toP(Math.min(candleOpen[k],candleClose[k])), toP(Math.max(candleOpen[k],candleClose[k]))]}))},
    {type:'bar', stack:'s', order:2, barThickness:1, borderWidth:0, backgroundColor:COL.wick,
     data: kIdx.map(k=>({x:k, y:[toP(candleLow[k]), toP(candleHigh[k])]}))}
  ]},
  options: commonOpts({top:3, bottom:1, left:0, right:0}, {
    x: hiddenX(),
    y: {type:'linear', position:'right', min:PRICE_MIN, max:PRICE_MAX, stacked:false,
        afterFit: fitY,
        afterBuildTicks(s){ s.ticks = priceTicks.map(v=>({value:v})); },
        ticks:{color:COL.text, font:FONT, padding:2, autoSkip:false, callback:v=>Number(v).toFixed(5)},
        grid:{drawOnChartArea:false, color:COL.frame, tickLength:4}, border:{display:false}}
  }),
  plugins:[framePlugin, crossPlugin(false), priceBoxPlugin]
});

// ---------- indicator panes ----------
function paneChart(canvasId, i, up, lo, wave, line, isLast){
  const split = paneSplit[i]; const [mn, mx] = paneRange[i];
  const mk = arr => arr.map((v,j)=>({x:IND_START+j, y:v}));
  const pc = (arr, a, b) => arr.map((v,j)=> (IND_START+j < split ? a : b));
  const ds = [
    {type:'bar', stack:'s', order:5, barThickness:3, borderWidth:0, data:mk(up), backgroundColor:pc(up, COL.up, COL.upF)},
    {type:'bar', stack:'s', order:4, barThickness:3, borderWidth:0, data:mk(lo), backgroundColor:pc(lo, COL.dn, COL.dnF)},
    {type:'bar', stack:'s', order:3, barThickness:4, borderWidth:0, data:mk(wave), backgroundColor:pc(wave, COL.wave, COL.waveF)}
  ];
  if(line){
    ds.push({type:'bar', stack:'s', order:2, barThickness:4, borderWidth:0, data:mk(line), backgroundColor:pc(line, COL.fill, COL.fillF)});
    ds.push({type:'line', order:1, data:mk(line), borderWidth:2.5, pointRadius:0, tension:0, fill:false,
      borderColor:COL.line, segment:{borderColor: c => (c.p1.parsed.x >= split ? COL.lineF : COL.line)}});
  }
  const x = isLast ? {type:'linear', min:X_MIN, max:X_MAX, offset:false, stacked:true, position:'bottom',
      afterFit(s){ s.height = 30; s.paddingLeft = 0; s.paddingRight = 0; },
      afterBuildTicks(s){ s.ticks = timeTickIdx.map(v=>({value:v})); },
      ticks:{autoSkip:false, maxRotation:0, minRotation:0, align:'start', color:COL.text, font:FONT, padding:2,
             callback:(v,idx)=>timeTickLabels[idx]},
      grid:{drawOnChartArea:false, color:COL.frame, tickLength:4, offset:false}, border:{display:false}}
    : hiddenX();
  const y = {type:'linear', position:'right', min:mn, max:mx, stacked:false,
      afterFit: fitY,
      afterBuildTicks(s){ s.ticks = [{value: mx-(mx-mn)*0.12},{value:0},{value: mn+(mx-mn)*0.11}]; },
      ticks:{color:COL.text, font:FONT, padding:2, autoSkip:false,
             callback:(v,idx)=> idx===0 ? mx.toFixed(4) : (idx===1 ? '0.00' : mn.toFixed(4))},
      grid:{drawOnChartArea:false, color:COL.frame, tickLength:4}, border:{display:false}};
  const plugins = [framePlugin, crossPlugin(isLast)];
  if(isLast) plugins.push(timeBoxPlugin);
  new Chart(document.getElementById(canvasId), {type:'bar', data:{datasets:ds},
    options: commonOpts({top:2, bottom: isLast ? 0 : 1, left:0, right:0}, {x, y}), plugins});
}
paneChart('cP1', 0, p1Upper, p1Lower, p1Wave, p1Line, false);
paneChart('cP2', 1, p2Upper, p2Lower, p2Wave, null, false);
paneChart('cP3', 2, p3Upper, p3Lower, p3Wave, null, true);
</script>
</body></html>
